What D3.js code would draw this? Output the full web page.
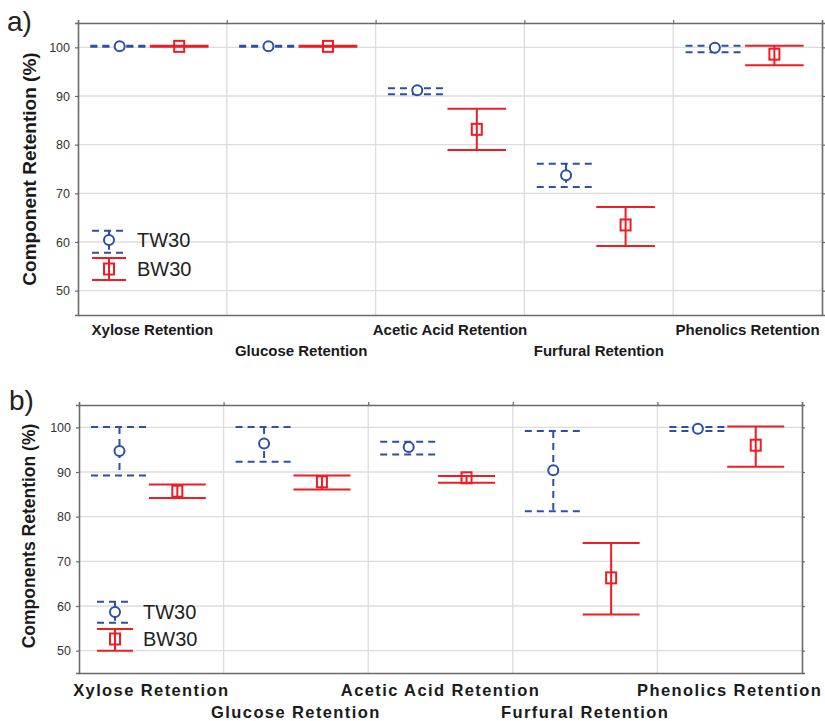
<!DOCTYPE html>
<html>
<head>
<meta charset="utf-8">
<script src="https://cdn.jsdelivr.net/npm/d3@7/dist/d3.min.js"></script>
<style>
  html, body { margin: 0; padding: 0; background: #fff; }
  svg { display: block; font-family: "Liberation Sans", Arial, sans-serif; }
</style>
</head>
<body>
<svg id="chart" width="825" height="721"></svg>
<script>
// ---------- data ----------
const categories = ["Xylose Retention", "Glucose Retention", "Acetic Acid Retention", "Furfural Retention", "Phenolics Retention"];
const seriesNames = ["TW30", "BW30"];
const yTicks = [50, 60, 70, 80, 90, 100];

// Panel a
const tw30MeanA = [100.2, 100.2, 91.2, 73.7, 99.9];
const tw30LowA  = [100.1, 100.1, 90.35, 71.3, 99.0];
const tw30HighA = [100.3, 100.3, 91.6, 76.1, 100.3];
const bw30MeanA = [100.2, 100.2, 83.15, 63.5, 98.6];
const bw30LowA  = [100.1, 100.1, 78.9, 59.2, 96.3];
const bw30HighA = [100.3, 100.3, 87.4, 67.2, 100.3];

// Panel b
const tw30MeanB = [94.7, 96.4, 95.6, 90.4, 99.7];
const tw30LowB  = [89.2, 92.3, 93.9, 81.2, 99.2];
const tw30HighB = [100.1, 100.1, 96.8, 99.2, 100.1];
const bw30MeanB = [85.7, 87.8, 88.7, 66.3, 96.0];
const bw30LowB  = [84.2, 86.1, 87.6, 58.1, 91.2];
const bw30HighB = [87.2, 89.2, 89.1, 74.1, 100.2];

const BLUE = "#2d50a4";
const RED = "#ee1d25";
const svg = d3.select("#chart");

function drawPanel(cfg) {
  const g = svg.append("g");
  const x = d3.scaleBand().domain(categories).range([cfg.left, cfg.right]);
  const y = d3.scaleLinear().domain([45, 105]).range([cfg.bottom, cfg.top]);
  const bw = x.bandwidth();

  // gridlines
  g.append("g").selectAll("line.h").data(yTicks).join("line")
    .attr("x1", cfg.left).attr("x2", cfg.right)
    .attr("y1", d => y(d)).attr("y2", d => y(d))
    .attr("stroke", "#dcdcdc").attr("stroke-width", 1.3);
  g.append("g").selectAll("line.v").data(categories.slice(1)).join("line")
    .attr("x1", d => x(d)).attr("x2", d => x(d))
    .attr("y1", cfg.top).attr("y2", cfg.bottom)
    .attr("stroke", "#dcdcdc").attr("stroke-width", 1.3);

  // axes
  const yAxisL = d3.axisLeft(y).tickValues(yTicks).tickSize(3).tickPadding(5);
  const yAxisR = d3.axisRight(y).tickValues(yTicks).tickSize(3).tickFormat("");
  const xAxisB = d3.axisBottom(x).tickSize(0).tickFormat("");
  const xAxisT = d3.axisTop(d3.scaleLinear().domain([0, 5]).range([cfg.left, cfg.right]))
    .tickValues([1, 2, 3, 4]).tickSize(3).tickFormat("");
  const styleAxis = sel => {
    sel.selectAll(".domain").attr("stroke", "#6a6a6a").attr("stroke-width", 1.6);
    sel.selectAll(".tick line").attr("stroke", "#6a6a6a").attr("stroke-width", 1.2);
    sel.selectAll(".tick text").attr("fill", "#333").attr("font-size", 12.5)
      .attr("font-family", "'Liberation Sans', Arial, sans-serif");
  };
  g.append("g").attr("transform", `translate(${cfg.left},0)`).call(yAxisL).call(styleAxis);
  g.append("g").attr("transform", `translate(${cfg.right},0)`).call(yAxisR).call(styleAxis);
  g.append("g").attr("transform", `translate(0,${cfg.bottom})`).call(xAxisB).call(styleAxis);
  g.append("g").attr("transform", `translate(0,${cfg.top})`).call(xAxisT).call(styleAxis);

  // category labels (staggered)
  g.append("g").selectAll("text").data(categories).join("text")
    .attr("x", d => x(d) + bw / 2)
    .attr("y", (d, i) => i % 2 === 0 ? cfg.labY1 : cfg.labY2)
    .attr("text-anchor", "middle")
    .attr("font-weight", "bold")
    .attr("font-size", cfg.labSize)
    .attr("letter-spacing", cfg.labSpacing)
    .attr("fill", "#1a1a1a")
    .attr("font-family", cfg.labFont)
    .text(d => d);

  // y title
  g.append("text")
    .attr("transform", `translate(${cfg.titleX},${(cfg.top + cfg.bottom) / 2 + cfg.titleShift}) rotate(-90)`)
    .attr("text-anchor", "middle")
    .attr("font-weight", "bold")
    .attr("font-size", cfg.titleSize)
    .attr("fill", "#1a1a1a")
    .text(cfg.title);

  // panel letter
  g.append("text").attr("x", cfg.letterX).attr("y", cfg.letterY)
    .attr("font-size", 28).attr("fill", "#222").text(cfg.letter);

  const series = [
    { name: seriesNames[0], mean: cfg.twMean, low: cfg.twLow, high: cfg.twHigh, color: BLUE, dash: "7,5", off: 0.28, shape: "circle" },
    { name: seriesNames[1], mean: cfg.bwMean, low: cfg.bwLow, high: cfg.bwHigh, color: RED, dash: null, off: 0.68, shape: "square" }
  ];
  const hw = bw * 0.197;

  series.forEach(s => {
    const sg = g.append("g");
    categories.forEach((c, i) => {
      const cx = x(c) + bw * s.off;
      drawErrorBar(sg, cx, y(s.mean[i]), y(s.low[i]), y(s.high[i]), hw, s);
    });
  });

  // legend
  series.forEach((s, k) => {
    const L = cfg.legend[k];
    const lg = g.append("g");
    drawErrorBar(lg, L.cx, L.my, L.lowY, L.highY, L.hw, s);
    lg.append("text").attr("x", L.tx).attr("y", L.my + 7)
      .attr("font-size", 20).attr("fill", "#222").text(s.name);
  });
}

function drawErrorBar(sg, cx, my, lowY, highY, hw, s) {
  const line = (x1, y1, x2, y2) => sg.append("line")
    .attr("x1", x1).attr("y1", y1).attr("x2", x2).attr("y2", y2)
    .attr("stroke", s.color).attr("stroke-width", 2)
    .attr("stroke-dasharray", s.dash);
  line(cx, highY, cx, lowY);
  line(cx - hw, highY, cx + hw, highY);
  line(cx - hw, lowY, cx + hw, lowY);
  if (s.shape === "circle") {
    sg.append("circle").attr("cx", cx).attr("cy", my).attr("r", 5)
      .attr("fill", "#fff").attr("stroke", s.color).attr("stroke-width", 2);
  } else {
    sg.append("rect").attr("x", cx - 5).attr("y", my - 5.5).attr("width", 10).attr("height", 11)
      .attr("fill", "none").attr("stroke", s.color).attr("stroke-width", 2);
  }
}

drawPanel({
  left: 78, right: 822, top: 23, bottom: 315,
  labY1: 335, labY2: 356, labSize: 15, labSpacing: 0, labFont: "'Liberation Sans Narrow', 'Liberation Sans', Arial, sans-serif",
  title: "Component Retention (%)", titleX: 36, titleSize: 19, titleShift: 0,
  letter: "a)", letterX: 7, letterY: 31,
  twMean: tw30MeanA, twLow: tw30LowA, twHigh: tw30HighA,
  bwMean: bw30MeanA, bwLow: bw30LowA, bwHigh: bw30HighA,
  legend: [
    { cx: 109, my: 240, lowY: 252.7, highY: 230.7, hw: 17, tx: 137 },
    { cx: 109, my: 269, lowY: 280, highY: 258, hw: 17, tx: 137 }
  ]
});

drawPanel({
  left: 79, right: 802, top: 405, bottom: 673,
  labY1: 696, labY2: 718, labSize: 16.5, labSpacing: 1.4, labFont: "'Liberation Sans', Arial, sans-serif",
  title: "Components Retention (%)", titleX: 35, titleSize: 17.5, titleShift: -3,
  letter: "b)", letterX: 9, letterY: 410,
  twMean: tw30MeanB, twLow: tw30LowB, twHigh: tw30HighB,
  bwMean: bw30MeanB, bwLow: bw30LowB, bwHigh: bw30HighB,
  legend: [
    { cx: 115, my: 612, lowY: 622.7, highY: 601.7, hw: 18, tx: 143 },
    { cx: 115, my: 639, lowY: 650.7, highY: 629, hw: 18, tx: 143 }
  ]
});
</script>
</body>
</html>
